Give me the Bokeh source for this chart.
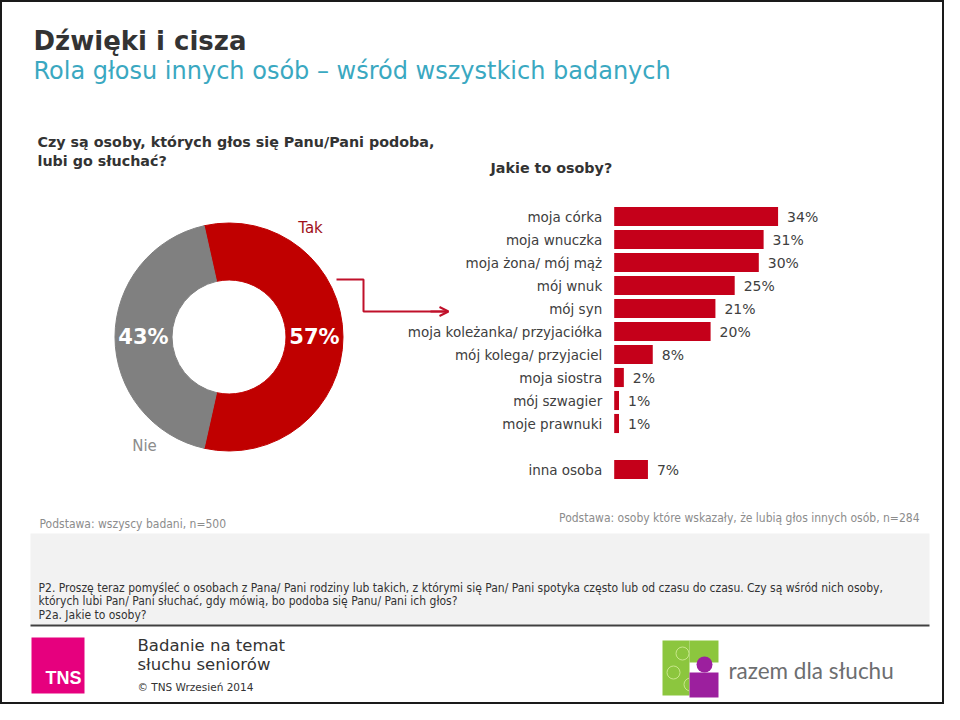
import numpy as np
from bokeh.plotting import figure
from bokeh.models import Range1d, Arrow, OpenHead
from bokeh.core.properties import value
from bokeh.embed import file_html
from bokeh.resources import INLINE

# ---------------- data ----------------
title = "Dźwięki i cisza"
subtitle = "Rola głosu innych osób – wśród wszystkich badanych"
question_left = ["Czy są osoby, których głos się Panu/Pani podoba,", "lubi go słuchać?"]
question_right = "Jakie to osoby?"

donut_labels = ["Tak", "Nie"]
donut_values = [57, 43]

categories = ["moja córka", "moja wnuczka", "moja żona/ mój mąż", "mój wnuk", "mój syn",
              "moja koleżanka/ przyjaciółka", "mój kolega/ przyjaciel", "moja siostra",
              "mój szwagier", "moje prawnuki", "inna osoba"]
values = [34, 31, 30, 25, 21, 20, 8, 2, 1, 1, 7]

base_all = "Podstawa: wszyscy badani, n=500"
base_yes = "Podstawa: osoby które wskazały, że lubią głos innych osób, n=284"
note_lines = [
    "P2. Proszę teraz pomyśleć o osobach z Pana/ Pani rodziny lub takich, z którymi się Pan/ Pani spotyka często lub od czasu do czasu. Czy są wśród nich osoby,",
    "których lubi Pan/ Pani słuchać, gdy mówią, bo podoba się Panu/ Pani ich głos?",
    "P2a. Jakie to osoby?",
]
footer_lines = ["Badanie na temat", "słuchu seniorów"]
copyright_text = "© TNS Wrzesień 2014"
logo_text = "razem dla słuchu"

# ---------------- figure ----------------
W, H = 944, 704
p = figure(width=W, height=H, x_range=Range1d(0, W), y_range=Range1d(720 - H, 720),
           output_backend="svg", toolbar_location=None,
           x_axis_location=None, y_axis_location=None, min_border=0)
p.xgrid.visible = False
p.ygrid.visible = False
p.outline_line_color = "#1a1a1a"
p.outline_line_width = 3
p.background_fill_color = "white"


def Y(ry):
    return 720 - ry


def txt(x, ry, s, size, color, font="DejaVu Sans", style="normal", align="left", baseline="middle"):
    p.text(x=[x], y=[Y(ry)], text=[s], text_font=value(font), text_font_size=f"{size}px",
           text_color=color, text_font_style=style, text_align=align, text_baseline=baseline)


# titles
txt(33, 40, title, 26, "#333333", style="bold")
txt(33, 70, subtitle, 24, "#3AA8C1")
txt(37, 141, question_left[0], 14.3, "#333333", style="bold")
txt(37, 160, question_left[1], 14.3, "#333333", style="bold")
txt(490, 167, question_right, 14.3, "#333333", style="bold")

# ---------------- donut ----------------
cx, cy = 228.5, Y(336.5)
r_in, r_out = 57, 114
frac = np.array(donut_values, dtype=float) / sum(donut_values)
bounds = -frac[0] * np.pi + np.concatenate([[0.0], np.cumsum(frac)]) * 2 * np.pi
donut_colors = ["#C00000", "#808080"]
p.annular_wedge(x=cx, y=cy, inner_radius=r_in, outer_radius=r_out,
                start_angle=bounds[:-1], end_angle=bounds[1:],
                fill_color=donut_colors, line_color=donut_colors)
mid = (bounds[:-1] + bounds[1:]) / 2
r_mid = (r_in + r_out) / 2
p.text(x=cx + r_mid * np.cos(mid), y=cy + r_mid * np.sin(mid),
       text=[f"{v}%" for v in donut_values], text_font=value("DejaVu Sans"),
       text_font_size="21px", text_font_style="bold", text_color="white",
       text_align="center", text_baseline="middle")
txt(310, 227, donut_labels[0], 15, "#A0101A", align="center")
txt(144, 445, donut_labels[1], 15, "#8C8C8C", align="center")

# connector arrow
p.line(x=[336, 363, 363, 446], y=[Y(279), Y(279), Y(311), Y(311)], line_color="#C0102A", line_width=2)
p.add_layout(Arrow(end=OpenHead(size=9, line_color="#C0102A", line_width=2),
                   x_start=430, y_start=Y(311), x_end=448, y_end=Y(311),
                   line_color="#C0102A", line_width=2))

# ---------------- bars ----------------
px_per_pct = 4.82
x0 = 613.7
p.extra_x_ranges = {"pct": Range1d((0 - x0) / px_per_pct, (W - x0) / px_per_pct)}
row0, row_step = 216, 23
p.extra_y_ranges = {"row": Range1d((H - row0) / row_step, (0 - row0) / row_step)}
rows = [i if i < len(categories) - 1 else i + 1 for i in range(len(categories))]

p.hbar(y=rows, left=0, right=values, height=0.83, fill_color="#C5001A", line_color=None,
       x_range_name="pct", y_range_name="row")
p.text(x=[0] * len(categories), y=rows, text=categories, x_offset=-12,
       text_font=value("DejaVu Sans"), text_font_size="13.5px", text_color="#404040",
       text_align="right", text_baseline="middle", x_range_name="pct", y_range_name="row")
p.text(x=values, y=rows, text=[f"{v}%" for v in values], x_offset=9,
       text_font=value("DejaVu Sans"), text_font_size="14px", text_color="#404040",
       text_align="left", text_baseline="middle", x_range_name="pct", y_range_name="row")

# ---------------- notes ----------------
txt(39, 523, base_all, 12, "#8C8C8C", font="DejaVu Sans Condensed")
txt(919, 517, base_yes, 12, "#8C8C8C", font="DejaVu Sans Condensed", align="right")
p.quad(left=30, right=929, top=Y(533), bottom=Y(624), fill_color="#F2F2F2", line_color=None)
p.segment(x0=30, y0=Y(625), x1=929, y1=Y(625), line_color="#404040", line_width=2)
for i, line in enumerate(note_lines):
    txt(38, 587 + 13.5 * i, line, 12, "#333333", font="DejaVu Sans Condensed")

# ---------------- footer ----------------
p.quad(left=31, right=84, top=Y(637), bottom=Y(693), fill_color="#E6007E", line_color=None)
txt(81, 677, "TNS", 18, "white", font="Liberation Sans", style="bold", align="right")
txt(137, 645, footer_lines[0], 16.5, "#333333")
txt(137, 664, footer_lines[1], 16.5, "#333333")
txt(137, 686, copyright_text, 10.5, "#333333")

# razem dla słuchu logo (simplified)
green, purple = "#8CC63E", "#9C1F9E"
p.quad(left=[662, 689], right=[689, 718], top=[Y(640), Y(640)], bottom=[Y(695), Y(662)],
       fill_color=green, line_color=None)
p.circle(x=[682, 673, 690], y=[Y(653), Y(672), Y(684)], radius=6.5,
         fill_color=None, line_color="#C8E78A", line_width=1)
p.quad(left=689, right=718, top=Y(672), bottom=Y(697), fill_color=purple, line_color=None)
p.circle(x=[704], y=[Y(664)], radius=8, fill_color=purple, line_color=None)
txt(728, 670, logo_text, 22.5, "#6D6E70", font="Lato")

open("out.html", "w").write(file_html(p, INLINE))
